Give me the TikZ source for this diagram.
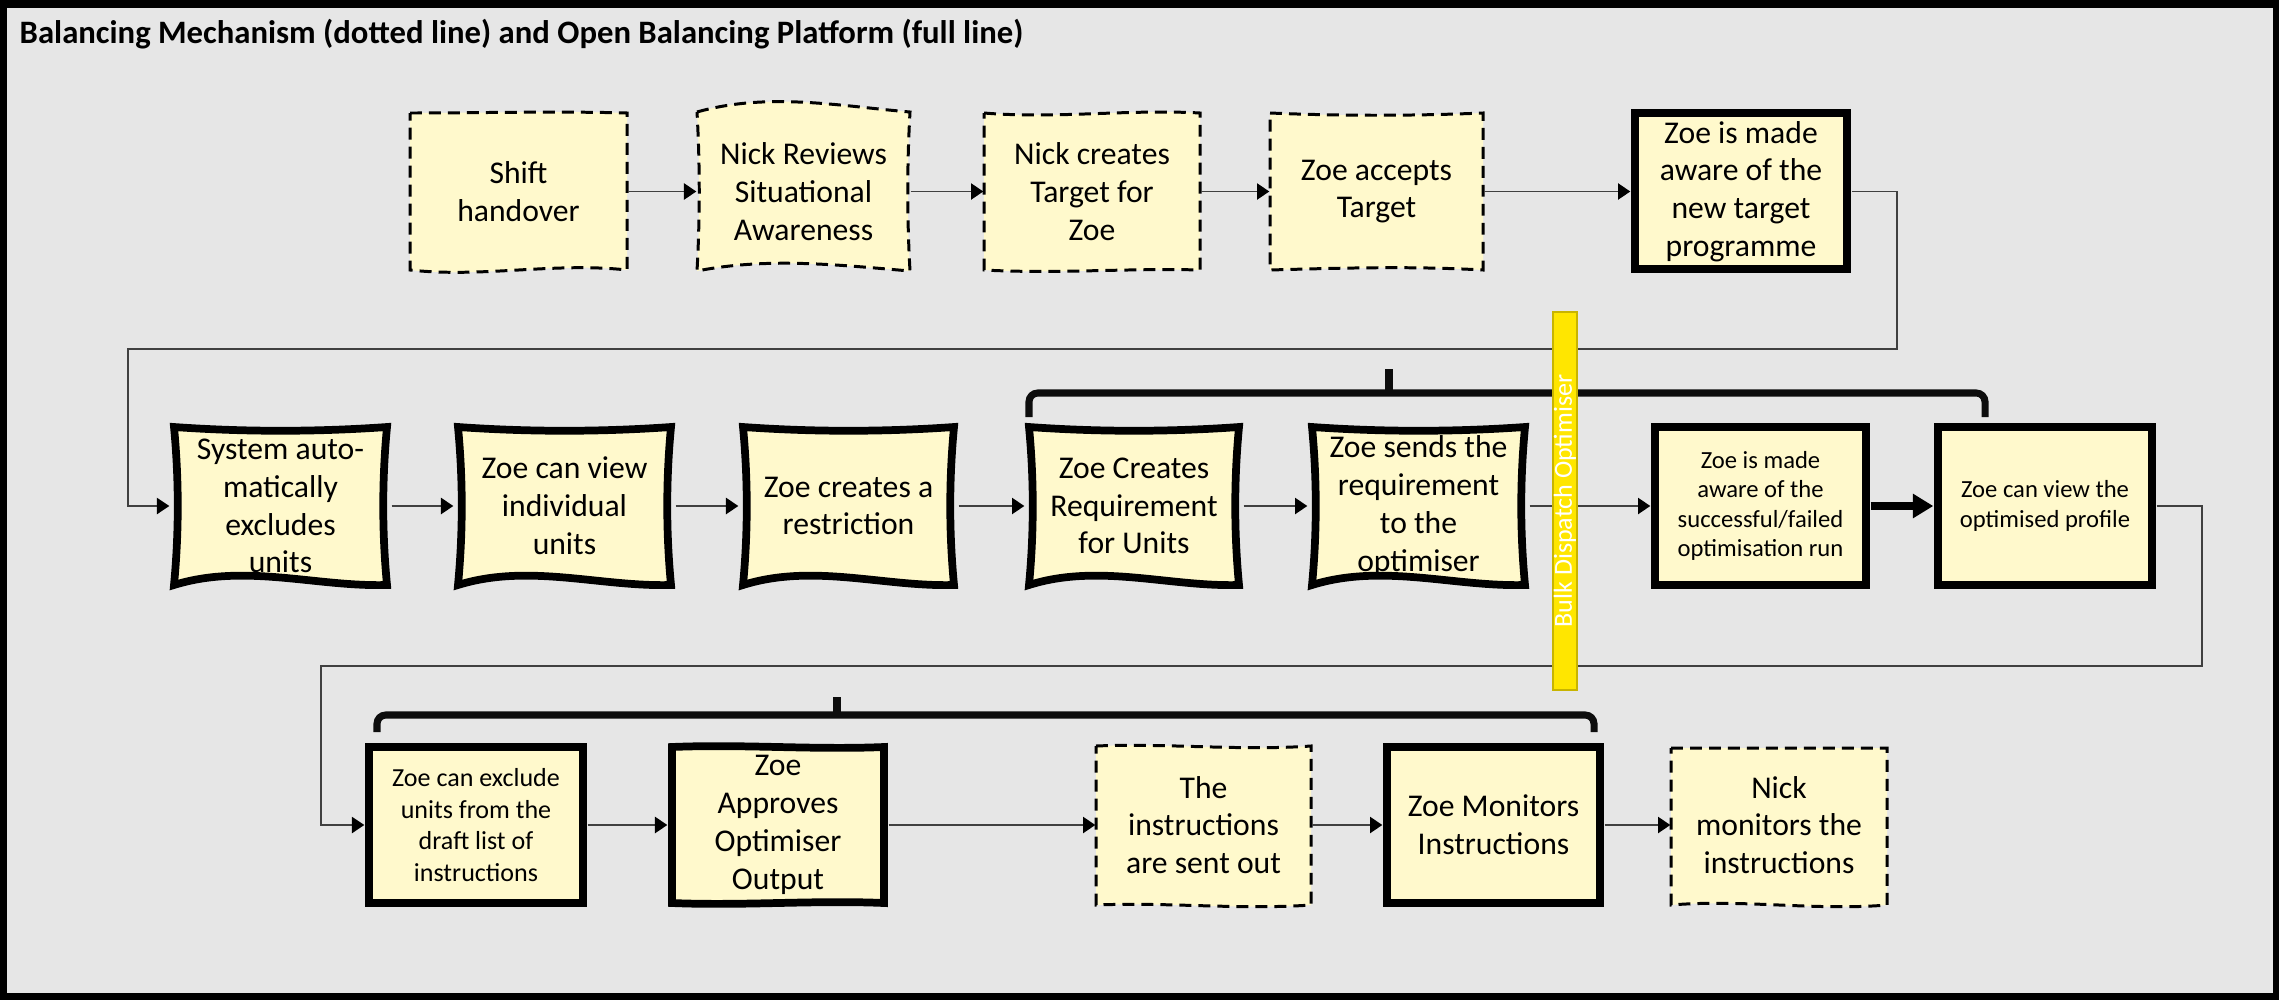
\documentclass[tikz,border=0pt]{standalone}
\usepackage{fontspec}
\setmainfont{Carlito}
\usetikzlibrary{arrows.meta}
\definecolor{bgc}{HTML}{E6E6E6}
\definecolor{boxc}{HTML}{FFF9CC}
\definecolor{barc}{HTML}{FFE600}
\definecolor{bare}{HTML}{C8B400}
\definecolor{linec}{HTML}{404040}
\tikzset{
  dbox/.style={fill=boxc, draw=black, line width=0.85pt, dash pattern=on 3.4pt off 2pt},
  tbox/.style={fill=boxc, draw=black, line width=2.2pt, line join=miter},
  lbl/.style={inner sep=0pt, align=center, font=\fontsize{9}{10.75}\selectfont},
  slbl/.style={inner sep=0pt, align=center, font=\fontsize{7}{8.3}\selectfont},
  mlbl/.style={inner sep=0pt, align=center, font=\fontsize{7.4}{9}\selectfont},
  conn/.style={draw=linec, line width=0.55pt, -{Triangle[length=3.5pt,width=4.6pt,color=black]}},
  loopc/.style={draw=linec, line width=0.4pt, -{Triangle[length=3.5pt,width=4.6pt,color=black]}},
  bigconn/.style={draw=black, line width=2pt, -{Triangle[length=5.8pt,width=6.6pt]}},
  brack/.style={draw=black!95, line width=2pt, rounded corners=2.5pt},
}
% sketch box outline: #1 style, #2 x1, #3 y1, #4 x2, #5 y2, #6 #7 top wave, #8 #9 bottom wave
\def\sks{0}
\newcommand\skb[9]{\path[#1] (#2,#3) .. controls ({#2+(#4-#2)/3},{#3+(#6)}) and ({#2+2*(#4-#2)/3},{#3+(#7)}) .. (#4,#3)
  .. controls ({#4-\sks},{#3+(#5-#3)/3}) and ({#4-\sks},{#3+2*(#5-#3)/3}) .. (#4,#5)
  .. controls ({#2+2*(#4-#2)/3},{#5+(#9)}) and ({#2+(#4-#2)/3},{#5+(#8)}) .. (#2,#5)
  .. controls ({#2+\sks},{#3+2*(#5-#3)/3}) and ({#2+\sks},{#3+(#5-#3)/3}) .. cycle;}
% text node: #1 style, #2 x1, #3 y1, #4 x2, #5 y2, #6 name, #7 text
\newcommand\bx[7]{\node[#1, minimum width={(#4-#2)*0.01cm}, minimum height={(#5-#3)*0.01cm}] (#6) at ({(#2+#4)/2},{(#3+#5)/2}) {#7};}
\begin{document}
\begin{tikzpicture}[x=0.01cm, y=-0.01cm]
\fill[black] (0,0) rectangle (2279,1000);
\fill[bgc] (7,8) rectangle (2273,993);
\node[anchor=base west, inner sep=0pt, font=\bfseries\fontsize{9.3}{10}\selectfont] (title) at (19,43) {Balancing Mechanism (dotted line) and Open Balancing Platform (full line)};

% ---- row 1 shapes
\skb{dbox}{410}{113}{627}{270}{0}{-2}{8}{-8}
\def\sks{3}
\skb{dbox}{697}{112}{910}{271}{-20}{-6}{-14}{-6}
\def\sks{0}
\skb{dbox}{984}{113}{1200}{270}{6}{-4}{4}{-2}
\skb{dbox}{1270}{113}{1483}{270}{3}{3}{-2}{-4}
\draw[tbox] (1635,113) rectangle (1847,269);
% ---- row 2 shapes
\def\sks{5}
\skb{tbox}{174}{427}{387}{585}{5}{5}{-22}{2}
\skb{tbox}{458}{427}{671}{585}{5}{5}{-22}{2}
\skb{tbox}{743}{427}{954}{585}{5}{5}{-22}{2}
\skb{tbox}{1029}{427}{1239}{585}{5}{5}{-22}{2}
\skb{tbox}{1312}{427}{1525}{585}{5}{5}{-22}{2}
\def\sks{0}
\draw[tbox] (1655,427) rectangle (1866,585);
\draw[tbox] (1938,427) rectangle (2152,585);
% ---- row 3 shapes
\draw[tbox] (369,747) rectangle (583,903);
\skb{tbox}{672}{747}{884}{903}{-3}{3}{3}{-3}
\skb{dbox}{1096}{746}{1311}{905}{-3}{5}{-3}{5}
\draw[tbox] (1387,747) rectangle (1600,903);
\skb{dbox}{1671}{748}{1887}{905}{0}{0}{-6}{6}

% ---- text nodes
\bx{lbl}{410}{113}{627}{270}{shift}{Shift\\handover}
\bx{lbl}{697}{113}{910}{270}{review}{Nick Reviews\\Situational\\Awareness}
\bx{lbl}{984}{113}{1200}{270}{create}{Nick creates\\Target for\\Zoe}
\bx{lbl}{1270}{113}{1483}{270}{accept}{Zoe accepts\\Target}
\bx{lbl}{1631}{109}{1851}{274}{aware}{Zoe is made\\aware of the\\new target\\programme}

\bx{lbl}{170}{423}{391}{589}{system}{System auto-\\matically\\excludes\\units}
\bx{lbl}{454}{423}{675}{589}{zview}{Zoe can view\\individual\\units}
\bx{lbl}{739}{423}{958}{589}{restrict}{Zoe creates a\\restriction}
\bx{lbl}{1025}{423}{1243}{589}{req}{Zoe Creates\\Requirement\\for Units}
\bx{lbl}{1308}{423}{1529}{589}{send}{Zoe sends the\\requirement\\to the\\optimiser}
\bx{slbl}{1651}{423}{1870}{589}{succ}{Zoe is made\\aware of the\\successful/failed\\optimisation run}
\bx{slbl}{1934}{423}{2156}{589}{profile}{Zoe can view the\\optimised profile}

\bx{mlbl}{365}{743}{587}{907}{exclude}{Zoe can exclude\\units from the\\draft list of\\instructions}
\bx{lbl}{668}{743}{888}{907}{approve}{Zoe\\Approves\\Optimiser\\Output}
\bx{lbl}{1096}{743}{1311}{907}{sent}{The\\instructions\\are sent out}
\bx{lbl}{1383}{743}{1604}{907}{monitor}{Zoe Monitors\\Instructions}
\bx{lbl}{1671}{743}{1887}{907}{nick}{Nick\\monitors the\\instructions}

% ---- connectors
\draw[conn] (shift) -- (review);
\draw[conn] (review) -- (create);
\draw[conn] (create) -- (accept);
\draw[conn] (accept) -- (aware);
\coordinate (c1) at (1897,349);
\coordinate (c2) at (128,506);
\draw[loopc] (aware.east) -| (c1) -| (c2) -- (system.west);
\draw[conn] (system) -- (zview);
\draw[conn] (zview) -- (restrict);
\draw[conn] (restrict) -- (req);
\draw[conn] (req) -- (send);
\draw[conn] (send) -- (succ);
\draw[bigconn] (succ) -- (profile);
\coordinate (c3) at (2202,666);
\coordinate (c4) at (321,825);
\draw[loopc] (profile.east) -| (c3) -| (c4) -- (exclude.west);
\draw[conn] (exclude) -- (approve);
\draw[conn] (approve) -- (sent);
\draw[conn] (sent) -- (monitor);
\draw[conn] (monitor) -- (nick);

% ---- brackets
\draw[brack] (1029,417) -- (1029,393) -- (1985,393) -- (1985,417);
\draw[draw=black!95, line width=2.2pt] (1389,395) -- (1389,369);
\draw[brack] (377,732) -- (377,715) -- (1594,715) -- (1594,732);
\draw[draw=black!95, line width=2.2pt] (837,717) -- (837,697);

% ---- optimiser bar
\node[rotate=90, fill=barc, draw=bare, line width=0.5pt, inner sep=0pt, minimum width=3.78cm, minimum height=0.245cm, text=white, font=\fontsize{7.4}{8}\selectfont] (bar) at (1565,501) {Bulk Dispatch Optimiser};
\end{tikzpicture}
\end{document}
